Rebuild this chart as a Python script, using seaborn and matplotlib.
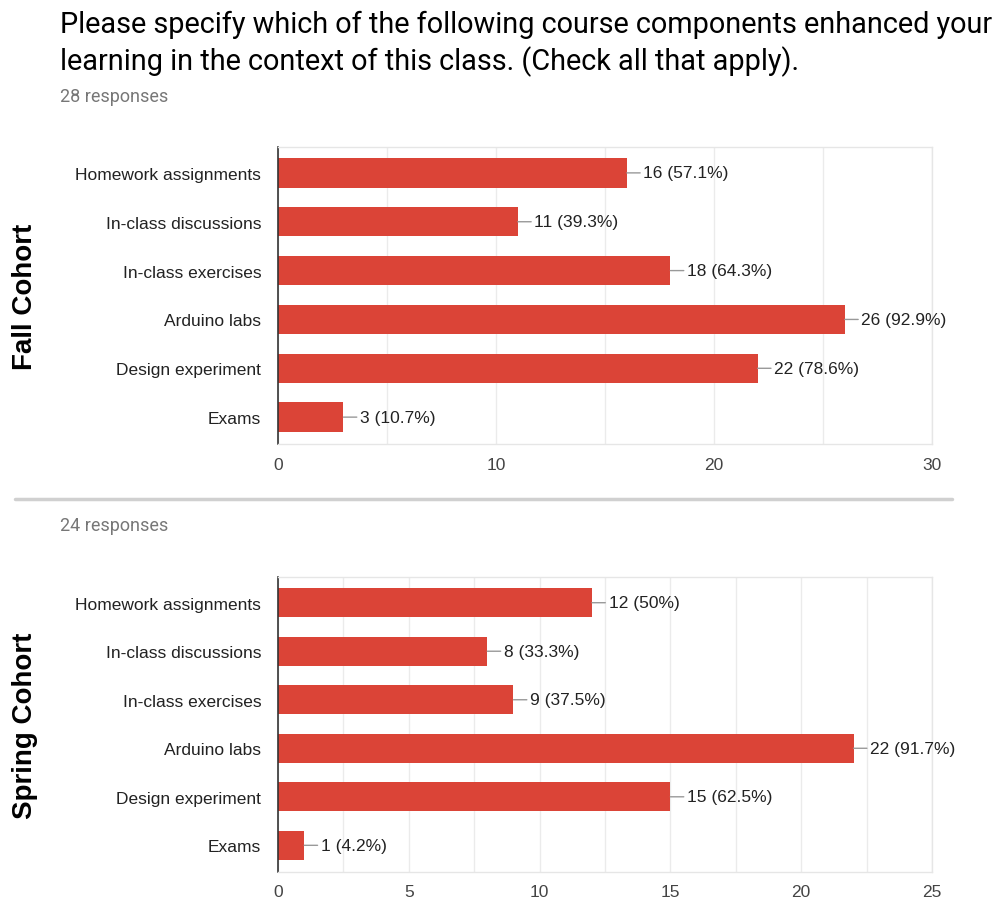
import matplotlib
matplotlib.use("Agg")
import matplotlib.pyplot as plt
import seaborn as sns
import pandas as pd
from matplotlib.ticker import MultipleLocator

sns.set_theme(style="white")
plt.rcParams['font.family'] = ['Liberation Sans', 'DejaVu Sans']

categories = ["Homework assignments", "In-class discussions", "In-class exercises",
              "Arduino labs", "Design experiment", "Exams"]
fall_counts = [16, 11, 18, 26, 22, 3]
spring_counts = [12, 8, 9, 22, 15, 1]
fall_n = 28
spring_n = 24
title_lines = ["Please specify which of the following course components enhanced your",
               "learning in the context of this class. (Check all that apply)."]
fall_ticks = [0, 10, 20, 30]
spring_ticks = [0, 5, 10, 15, 20, 25]

BAR = "#DB4437"
TXT = "#222222"
GRID = "#EBEBEB"

fig = plt.figure(figsize=(10.01, 9.03), dpi=100)

def panel(rect, counts, n, ticks, minor, cohort):
    ax = fig.add_axes(rect)
    df = pd.DataFrame({"cat": categories, "val": counts})
    sns.barplot(data=df, x="val", y="cat", orient="h", color=BAR, width=0.6,
                ax=ax, saturation=1, edgecolor="none")
    ax.set_xlim(ticks[0], ticks[-1])
    ax.set_ylim(5.55, -0.53)
    ax.set_xticks(ticks)
    ax.xaxis.set_minor_locator(MultipleLocator(minor))
    ax.grid(True, axis="x", which="both", color=GRID, lw=1)
    ax.set_axisbelow(True)
    ax.set_xlabel("")
    ax.set_ylabel(cohort, fontsize=20, fontweight="bold", color="black")
    ax.yaxis.set_label_coords(-(278 - 25) / 654, 0.5)
    ax.yaxis.label.set_va("center")
    ax.tick_params(axis="y", length=0, pad=12, labelsize=12.5, labelcolor=TXT)
    ax.tick_params(axis="x", length=0, pad=9, labelsize=12.5, labelcolor="#444444")
    for s in ["top", "right", "bottom"]:
        ax.spines[s].set_color("#E6E6E6")
        ax.spines[s].set_linewidth(1)
    ax.spines["left"].set_color("#333333")
    ax.spines["left"].set_linewidth(1.2)
    for i, v in enumerate(counts):
        pct = round(v / n * 100, 1)
        label = f"{v} ({pct:g}%)"
        ax.annotate(label, xy=(v, i), xytext=(12, 0), textcoords="offset points",
                    va="center", ha="left", fontsize=12.5, color=TXT,
                    arrowprops=dict(arrowstyle="-", color="#999999", lw=1,
                                    shrinkA=0, shrinkB=0))
    return ax

panel([278/1001, 1-445/903, 654/1001, 297/903], fall_counts, fall_n, fall_ticks, 5, "Fall Cohort")
panel([278/1001, 1-873/903, 654/1001, 295/903], spring_counts, spring_n, spring_ticks, 2.5, "Spring Cohort")

fig.text(60/1001, 1-33/903, title_lines[0], ha="left", va="baseline", fontsize=20.8,
         color="black", family=["Roboto", "DejaVu Sans"])
fig.text(60/1001, 1-70/903, title_lines[1], ha="left", va="baseline", fontsize=20.8,
         color="black", family=["Roboto", "DejaVu Sans"])
fig.text(60/1001, 1-102/903, "28 responses", ha="left", va="baseline", fontsize=13,
         color="#777777", family=["Roboto", "DejaVu Sans"])
fig.text(60/1001, 1-531/903, "24 responses", ha="left", va="baseline", fontsize=13,
         color="#777777", family=["Roboto", "DejaVu Sans"])
fig.add_artist(plt.Line2D([15/1001, 952/1001], [1-500/903, 1-500/903], color="#D0D0D0", lw=2.5,
                          transform=fig.transFigure))

fig.savefig("out.png", dpi=100, facecolor="white")
